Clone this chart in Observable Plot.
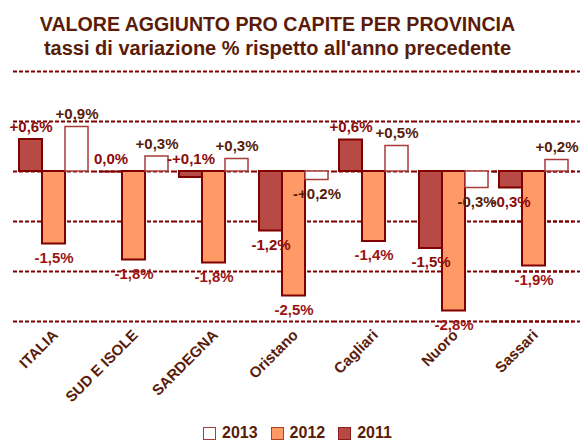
<!DOCTYPE html>
<html><head><meta charset="utf-8">
<script src="https://cdn.jsdelivr.net/npm/d3@7"></script>
<script src="https://cdn.jsdelivr.net/npm/@observablehq/plot@0.6"></script>
<style>
body{margin:0;background:#fff;font-family:"Liberation Sans",Arial,sans-serif;}
#wrap{position:relative;width:585px;height:441px;overflow:hidden;background:#fff;}
.t{position:absolute;left:0;width:555px;text-align:center;font-weight:bold;color:#5a1c08;white-space:nowrap;}
#title{top:14px;font-size:19.6px;line-height:20px;}
#subtitle{top:38px;font-size:20px;line-height:20px;}
#chart{position:absolute;left:0;top:60px;}
#legend{position:absolute;left:203px;top:424px;display:flex;align-items:center;font-size:16px;font-weight:bold;color:#5a1c08;line-height:18px;}
.sw{display:inline-block;width:13px;height:13px;box-sizing:border-box;margin-right:6px;}
.it{display:flex;align-items:center;margin-right:13px;}
</style></head>
<body>
<div id="wrap">
  <div id="title" class="t">VALORE AGGIUNTO PRO CAPITE PER PROVINCIA</div>
  <div id="subtitle" class="t">tassi di variazione % rispetto all'anno precedente</div>
  <div id="chart"></div>
  <div id="legend"></div>
</div>
<script>
const categories = ["ITALIA","SUD E ISOLE","SARDEGNA","Oristano","Cagliari","Nuoro","Sassari"];
const yearsOrder = ["2011","2012","2013"];
const legendYears = ["2013","2012","2011"];
const values2011 = [0.64, 0.0, -0.12, -1.19, 0.63, -1.54, -0.33];
const values2012 = [-1.45, -1.77, -1.83, -2.49, -1.40, -2.79, -1.89];
const values2013 = [0.89, 0.30, 0.25, -0.17, 0.51, -0.33, 0.23];
const labels2011 = ["+0,6%","0,0%","-+0,1%","-1,2%","+0,6%","-1,5%","-0,3%"];
const labels2012 = ["-1,5%","-1,8%","-1,8%","-2,5%","-1,4%","-2,8%","-1,9%"];
const labels2013 = ["+0,9%","+0,3%","+0,3%","-+0,2%","+0,5%","-0,3%","+0,2%"];
const gridValues = [2, 1, 0, -1, -2, -3];

const style = {
  "2011": {fill:"#b84a45", stroke:"#800000", sw:2, text:"#8b0a0a"},
  "2012": {fill:"#ff9966", stroke:"#800000", sw:2, text:"#9c1414"},
  "2013": {fill:"#ffffff", stroke:"#a83a3a", sw:1.5, text:"#551c08"}
};
const seriesVals = {"2011":values2011, "2012":values2012, "2013":values2013};
const seriesLabels = {"2011":labels2011, "2012":labels2012, "2013":labels2013};

const rows = yearsOrder.flatMap(y => categories.map((c,i) => ({cat:c, year:y, value:seriesVals[y][i], label:seriesLabels[y][i]})));
const above = d => d.value >= -0.15;
const gridStyle = {stroke:"#7f0000", strokeWidth:2, strokeDasharray:"4,2"};
const lastCat = categories[categories.length - 1];

const marks = [
  Plot.ruleY(gridValues, {...gridStyle}),
  Plot.ruleY(gridValues.map(v => ({cat:lastCat, v})), {fx:"cat", y:"v", insetRight:-7, ...gridStyle})
];
for (const y of yearsOrder) {
  const s = style[y];
  const data = rows.filter(d => d.year === y);
  marks.push(Plot.barY(data.filter(d => d.value !== 0), {fx:"cat", x:"year", y:"value", fill:s.fill, stroke:s.stroke, strokeWidth:s.sw}));
  marks.push(Plot.tickY(data.filter(d => d.value === 0), {fx:"cat", x:"year", y:"value", stroke:s.stroke, strokeWidth:s.sw}));
}
for (const y of yearsOrder) {
  const s = style[y];
  const data = rows.filter(d => d.year === y);
  marks.push(Plot.text(data.filter(above), {fx:"cat", x:"year", y:d => Math.max(0, d.value), text:"label", dy:-12.5, lineAnchor:"middle", fill:s.text, fontSize:15, fontWeight:"bold"}));
  marks.push(Plot.text(data.filter(d => !above(d)), {fx:"cat", x:"year", y:"value", text:"label", dy:14, lineAnchor:"middle", fill:s.text, fontSize:15, fontWeight:"bold"}));
}
marks.push(Plot.axisFx({anchor:"bottom", tickRotate:-45, tickSize:0, tickPadding:11, dx:2, fontSize:15, fontWeight:"bold", fill:"#5a1c08", label:null}));

const chart = Plot.plot({
  width:585, height:360,
  marginTop:11, marginBottom:99, marginLeft:13, marginRight:2,
  style:{background:"transparent", overflow:"visible", fontFamily:"'Liberation Sans', Arial, sans-serif"},
  fx:{domain:categories, paddingInner:0, paddingOuter:0.0435, align:0, label:null},
  x:{domain:yearsOrder, paddingInner:0, paddingOuter:0.22, axis:null},
  y:{domain:[-3, 2], axis:null},
  marks
});
document.getElementById("chart").appendChild(chart);

const legend = document.getElementById("legend");
for (const y of legendYears) {
  const s = style[y];
  const it = document.createElement("span");
  it.className = "it";
  const sw = document.createElement("span");
  sw.className = "sw";
  sw.style.background = s.fill;
  sw.style.border = `1.5px solid ${y === "2013" ? "#a83a3a" : (y === "2012" ? "#b04020" : "#8b1a1a")}`;
  it.appendChild(sw);
  it.appendChild(document.createTextNode(y));
  legend.appendChild(it);
}
</script>
</body></html>
